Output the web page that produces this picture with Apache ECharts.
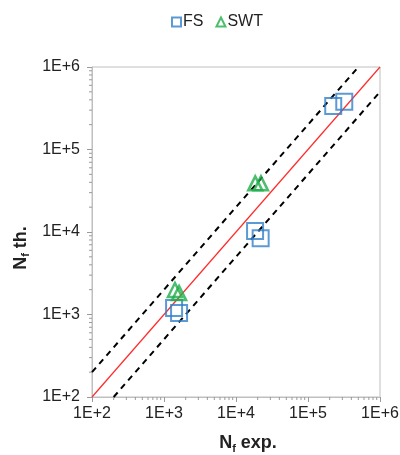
<!DOCTYPE html>
<html><head><meta charset="utf-8">
<script src="https://cdn.jsdelivr.net/npm/echarts@6/dist/echarts.min.js"></script>
<style>html,body{margin:0;padding:0;background:#fff}#c{width:400px;height:455px}</style>
</head><body><div id="c"></div>
<script>
// Data (N_f experimental, N_f theoretical)
var fsExp = [1380, 1620, 18400, 22000, 224000, 319000];
var fsTh  = [1200, 1040, 10300, 8400, 336000, 380000];
var swtExp = [1420, 1620, 18500, 22200];
var swtTh  = [1980, 1820, 38900, 38900];
// Reference lines
var oneToOneX = [100, 1000000];
var oneToOneY = [100, 1000000];
var upperX = [100, 500000];
var upperY = [200, 1000000];
var lowerX = [200, 1000000];
var lowerY = [100, 500000];
// Axis ticks
var decades = [100, 1000, 10000, 100000, 1000000];
var minorMult = [2,3,4,5,6,7,8,9];

function pairs(a,b){return a.map(function(v,i){return [v,b[i]];});}
var minorX = [], minorY = [];
for (var d=0; d<decades.length-1; d++) {
  minorMult.forEach(function(m){
    minorX.push([decades[d]*m, 100]);
    minorY.push([100, decades[d]*m]);
  });
}
var FONT = 'Liberation Sans, Arial, sans-serif';
var BLUE = '#3381cc', GREEN = '#1fae4a';
var chart = echarts.init(document.getElementById('c'), null, {renderer:'canvas'});
function tickFmt(v){return '1E+' + Math.round(Math.log10(v));}
var axisCommon = {
  type:'log', logBase:10, min:100, max:1000000, splitNumber:4,
  axisLine:{show:true, onZero:false, lineStyle:{color:'#bfbfbf', width:1}},
  axisTick:{show:true, inside:false, length:5, lineStyle:{color:'#9a9a9a'}},
  minorTick:{show:false}, splitLine:{show:false},
  axisLabel:{formatter:tickFmt, fontFamily:FONT, fontSize:16, color:'#222'}
};
var titleRich = {
  b:{fontFamily:FONT, fontSize:18, fontWeight:'bold', color:'#222'},
  s:{fontFamily:FONT, fontSize:11, fontWeight:'bold', color:'#222', verticalAlign:'bottom', padding:[10,0,0,0]}
};
chart.setOption({
  animation:false,
  grid:{left:92, right:20, top:67, bottom:58, outerBoundsMode:'none', containLabel:false,
        show:true, borderColor:'#bfbfbf', borderWidth:1},
  legend:{
    top:9, left:166, itemWidth:9, itemHeight:9, itemGap:12,
    textStyle:{fontFamily:FONT, fontSize:16, color:'#222', padding:[0,0,0,-3]},
    data:['FS','SWT']
  },
  xAxis: Object.assign({}, axisCommon, {
    axisLabel:Object.assign({}, axisCommon.axisLabel, {margin:9}),
    name:'{b|N}{s|f}{b| exp.}', nameLocation:'middle', nameGap:36,
    nameTextStyle:{padding:[0,0,0,24], rich:titleRich}
  }),
  yAxis: Object.assign({}, axisCommon, {
    axisLabel:Object.assign({}, axisCommon.axisLabel, {margin:12}),
    name:'{b|N}{s|f}{b| th.}', nameLocation:'middle', nameGap:54, nameRotate:90,
    nameTextStyle:{padding:[0,32,0,0], rich:titleRich}
  }),
  series:[
    {type:'custom', name:'minorX', silent:true, clip:false, data:minorX, z:1,
     renderItem:function(p,api){var c=api.coord([api.value(0),api.value(1)]);
       return {type:'line', shape:{x1:c[0],y1:c[1],x2:c[0],y2:c[1]+3}, style:{stroke:'#9a9a9a', lineWidth:1}};}},
    {type:'custom', name:'minorY', silent:true, clip:false, data:minorY, z:1,
     renderItem:function(p,api){var c=api.coord([api.value(0),api.value(1)]);
       return {type:'line', shape:{x1:c[0]-3,y1:c[1],x2:c[0],y2:c[1]}, style:{stroke:'#9a9a9a', lineWidth:1}};}},
    {type:'line', name:'upper', data:pairs(upperX,upperY), symbol:'none', silent:true,
     lineStyle:{color:'#000', width:2, type:[6,5]}, z:2},
    {type:'line', name:'lower', data:pairs(lowerX,lowerY), symbol:'none', silent:true,
     lineStyle:{color:'#000', width:2, type:[6,5]}, z:2},
    {type:'line', name:'1:1', data:pairs(oneToOneX,oneToOneY), symbol:'none', silent:true,
     lineStyle:{color:'#ff2a2a', width:1.2}, z:2},
    {type:'scatter', name:'FS', data:pairs(fsExp,fsTh), symbol:'rect', symbolSize:16, z:5,
     itemStyle:{color:'rgba(255,255,255,0)', borderColor:BLUE, borderWidth:2}},
    {type:'scatter', name:'SWT', data:pairs(swtExp,swtTh), symbol:'triangle', symbolSize:[14,14], z:5,
     itemStyle:{color:'rgba(255,255,255,0)', borderColor:GREEN, borderWidth:2.5}}
  ]
});
</script></body></html>
